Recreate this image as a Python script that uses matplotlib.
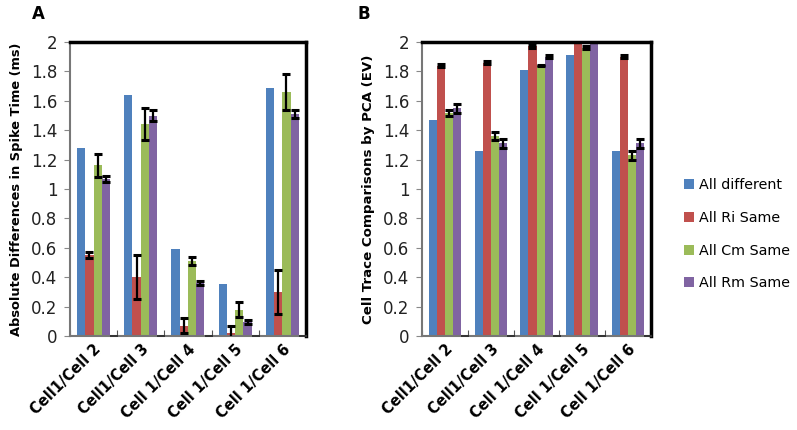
import numpy as np
import matplotlib.pyplot as plt

categories = ['Cell1/Cell 2', 'Cell1/Cell 3', 'Cell 1/Cell 4', 'Cell 1/Cell 5', 'Cell 1/Cell 6']
series = ['All different', 'All Ri Same', 'All Cm Same', 'All Rm Same']
colors = ['#4F81BD', '#C0504D', '#9BBB59', '#8064A2']

# panel A: absolute differences in spike time (ms)
spike_vals = [
    [1.28, 1.64, 0.59, 0.355, 1.69],
    [0.55, 0.40, 0.07, 0.02, 0.30],
    [1.16, 1.44, 0.51, 0.18, 1.66],
    [1.07, 1.50, 0.36, 0.095, 1.51],
]
spike_err = [
    [0, 0, 0, 0, 0],
    [0.02, 0.15, 0.05, 0.05, 0.15],
    [0.08, 0.11, 0.03, 0.05, 0.12],
    [0.02, 0.04, 0.015, 0.015, 0.03],
]

# panel B: PCA comparison (EV)
pca_vals = [
    [1.47, 1.26, 1.81, 1.91, 1.26],
    [1.84, 1.86, 1.97, 2.05, 1.90],
    [1.52, 1.36, 1.84, 1.96, 1.23],
    [1.55, 1.31, 1.90, 2.05, 1.31],
]
pca_err = [
    [0, 0, 0, 0, 0],
    [0.01, 0.01, 0.01, 0, 0.01],
    [0.02, 0.03, 0.005, 0.01, 0.03],
    [0.03, 0.03, 0.01, 0, 0.03],
]

# empty fifth series, Excel still draws its error caps at zero
blank = [0, 0, 0, 0, 0]

fig = plt.figure(figsize=(7.97, 4.30), dpi=100)
axA = fig.add_axes([0.0878, 0.2186, 0.296, 0.6837])
axB = fig.add_axes([0.5295, 0.2186, 0.2873, 0.6837])

bw = 0.175
x = np.arange(len(categories))


def draw(ax, vals, errs, ylabel, ylsize):
    for k in range(4):
        pos = x + 0.15 + bw / 2 + k * bw
        ax.bar(pos, vals[k], width=bw, color=colors[k], label=series[k], zorder=2)
        e = np.array(errs[k])
        if e.any():
            m = e > 0
            ax.errorbar(pos[m], np.array(vals[k])[m], yerr=e[m], fmt='none',
                        ecolor='black', elinewidth=1.6, capsize=3, capthick=2.2, zorder=3)
    pos = x + 0.15 + bw / 2 + 4 * bw
    ax.errorbar(pos, blank, yerr=blank, fmt='none', ecolor='#333333',
                elinewidth=1, capsize=3, capthick=1.2, zorder=3)
    ax.set_xlim(0, len(categories))
    ax.set_ylim(0, 2)
    ax.set_yticks(np.arange(0, 2.01, 0.2))
    ax.set_yticklabels(['0', '0.2', '0.4', '0.6', '0.8', '1', '1.2', '1.4', '1.6', '1.8', '2'])
    ax.set_xticks(np.arange(0, len(categories) + 1))
    ax.set_xticklabels([])
    ax.set_xticks(x + 0.5, minor=True)
    ax.set_xticklabels(categories, minor=True, rotation=45, ha='right', va='top',
                       fontsize=10.5, fontweight='bold', rotation_mode='anchor')
    ax.tick_params(axis='x', which='minor', length=0, pad=4)
    ax.tick_params(axis='x', which='major', direction='in', length=4, color='#555555')
    ax.tick_params(axis='y', direction='out', length=4, color='#888888', labelsize=12,
                   labelcolor='#222222', pad=5)
    for s in ['top', 'right']:
        ax.spines[s].set_color('black')
        ax.spines[s].set_linewidth(2.5)
    for s in ['left', 'bottom']:
        ax.spines[s].set_color('#777777')
        ax.spines[s].set_linewidth(1.5)
    ax.set_ylabel(ylabel, fontsize=ylsize, fontweight='bold', labelpad=6)


draw(axA, spike_vals, spike_err, 'Absolute Differences in Spike Time (ms)', 9.4)
draw(axB, pca_vals, pca_err, 'Cell Trace Comparisons by PCA (EV)', 9.6)

fig.text(38 / 797, 1 - 14 / 430, 'A', fontsize=12, fontweight='bold', va='center', ha='center')
fig.text(364 / 797, 1 - 14 / 430, 'B', fontsize=12, fontweight='bold', va='center', ha='center')

handles, labels = axB.get_legend_handles_labels()
fig.legend(handles, labels, loc='center left', bbox_to_anchor=(0.842, 0.455),
           frameon=False, fontsize=10.3, handlelength=0.7, handleheight=0.7,
           labelspacing=1.3, handletextpad=0.35)

fig.savefig('out.png', dpi=100)
